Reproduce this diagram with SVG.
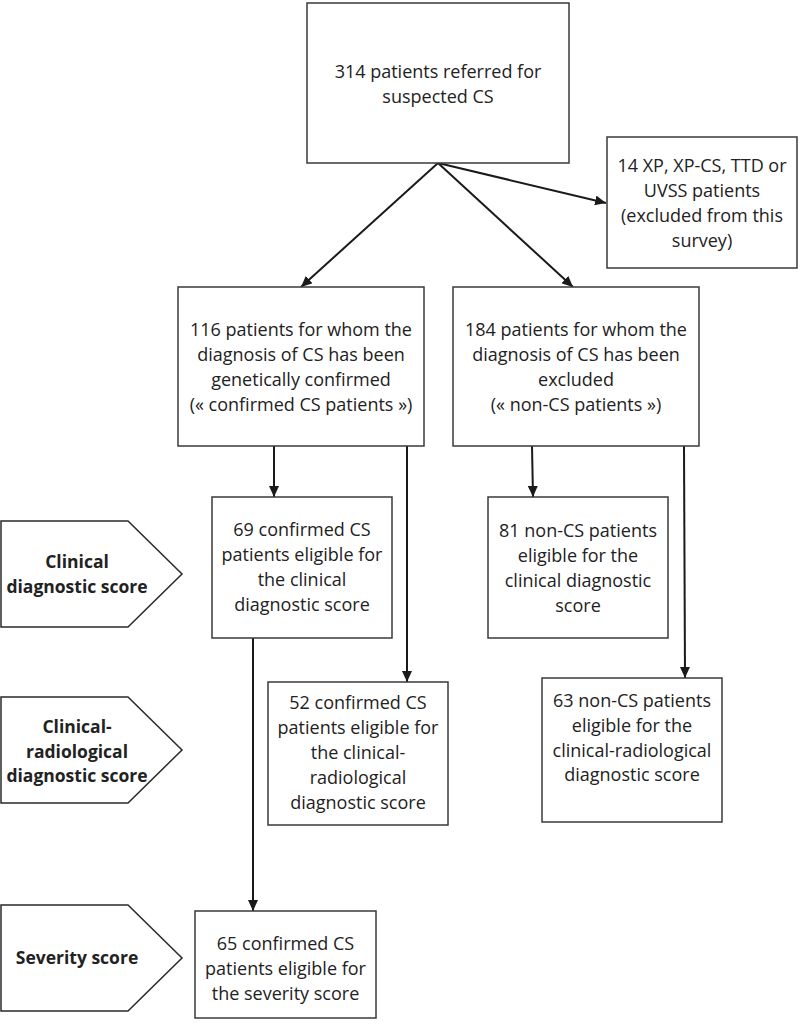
<svg xmlns="http://www.w3.org/2000/svg" width="800" height="1026" viewBox="0 0 800 1026">
<defs>
<style>
.box{fill:#fff;stroke:#3a3a3a;stroke-width:1.5}
.pent{fill:#fff;stroke:#2a2a2a;stroke-width:1.5}
.t{font-family:"Open Sans","Liberation Sans",sans-serif;font-size:18px;fill:#222;text-anchor:middle}
.b{font-family:"Open Sans","Liberation Sans",sans-serif;font-size:17.5px;font-weight:bold;fill:#222;text-anchor:middle}
.c{stroke:#1a1a1a;stroke-width:2;fill:none;marker-end:url(#ah)}
</style>
<marker id="ah" markerUnits="userSpaceOnUse" markerWidth="12" markerHeight="10" refX="11" refY="5" orient="auto">
<path d="M0,0 L11,5 L0,10 z" fill="#1a1a1a"/>
</marker>
</defs>
<rect width="800" height="1026" fill="#fff"/>

<g id="connectors">
<line class="c" x1="438" y1="163" x2="606" y2="203"/>
<line class="c" x1="438" y1="163" x2="301" y2="287"/>
<line class="c" x1="438" y1="163" x2="573" y2="287"/>
<line class="c" x1="274" y1="446" x2="274" y2="497"/>
<line class="c" x1="407" y1="446" x2="407" y2="682"/>
<line class="c" x1="532" y1="446" x2="533" y2="497"/>
<line class="c" x1="684" y1="446" x2="685" y2="678"/>
<line class="c" x1="253" y1="638" x2="253" y2="911"/>
</g>

<g id="n-top">
<rect class="box" x="307" y="3" width="262" height="160"/>
<text class="t" x="438" y="78">314 patients referred for</text>
<text class="t" x="438" y="103">suspected CS</text>
</g>

<g id="n-excluded">
<rect class="box" x="607" y="137" width="190" height="131"/>
<text class="t" x="702" y="172">14 XP, XP-CS, TTD or</text>
<text class="t" x="702" y="197">UVSS patients</text>
<text class="t" x="702" y="222">(excluded from this</text>
<text class="t" x="702" y="247">survey)</text>
</g>

<g id="n-confirmed">
<rect class="box" x="178" y="287" width="246" height="159"/>
<text class="t" x="301" y="336">116 patients for whom the</text>
<text class="t" x="301" y="361">diagnosis of CS has been</text>
<text class="t" x="301" y="386">genetically confirmed</text>
<text class="t" x="301" y="411">(« confirmed CS patients »)</text>
</g>

<g id="n-noncs">
<rect class="box" x="453" y="287" width="246" height="159"/>
<text class="t" x="576" y="336">184 patients for whom the</text>
<text class="t" x="576" y="361">diagnosis of CS has been</text>
<text class="t" x="576" y="386">excluded</text>
<text class="t" x="576" y="411">(« non-CS patients »)</text>
</g>

<g id="n-69">
<rect class="box" x="212" y="497" width="180" height="141"/>
<text class="t" x="302" y="536">69 confirmed CS</text>
<text class="t" x="302" y="561">patients eligible for</text>
<text class="t" x="302" y="586">the clinical</text>
<text class="t" x="302" y="611">diagnostic score</text>
</g>

<g id="n-81">
<rect class="box" x="488" y="497" width="180" height="141"/>
<text class="t" x="578" y="537">81 non-CS patients</text>
<text class="t" x="578" y="562">eligible for the</text>
<text class="t" x="578" y="587">clinical diagnostic</text>
<text class="t" x="578" y="612">score</text>
</g>

<g id="n-52">
<rect class="box" x="268" y="682" width="180" height="143"/>
<text class="t" x="358" y="709">52 confirmed CS</text>
<text class="t" x="358" y="734">patients eligible for</text>
<text class="t" x="358" y="759">the clinical-</text>
<text class="t" x="358" y="784">radiological</text>
<text class="t" x="358" y="809">diagnostic score</text>
</g>

<g id="n-63">
<rect class="box" x="542" y="678" width="180" height="144"/>
<text class="t" x="632" y="707">63 non-CS patients</text>
<text class="t" x="632" y="732">eligible for the</text>
<text class="t" x="632" y="757">clinical-radiological</text>
<text class="t" x="632" y="781">diagnostic score</text>
</g>

<g id="n-65">
<rect class="box" x="195" y="911" width="181" height="107"/>
<text class="t" x="285.5" y="950">65 confirmed CS</text>
<text class="t" x="285.5" y="975">patients eligible for</text>
<text class="t" x="285.5" y="1000">the severity score</text>
</g>

<g id="p-clinical">
<path class="pent" d="M1,521 L128,521 L182,574 L128,627 L1,627 Z"/>
<text class="b" x="77" y="568">Clinical</text>
<text class="b" x="77" y="593">diagnostic score</text>
</g>

<g id="p-clinrad">
<path class="pent" d="M1,697 L128,697 L182,750 L128,803 L1,803 Z"/>
<text class="b" x="77" y="733">Clinical-</text>
<text class="b" x="77" y="758">radiological</text>
<text class="b" x="77" y="782">diagnostic score</text>
</g>

<g id="p-severity">
<path class="pent" d="M1,905 L128,905 L182,958 L128,1011 L1,1011 Z"/>
<text class="b" x="77" y="964">Severity score</text>
</g>
</svg>
